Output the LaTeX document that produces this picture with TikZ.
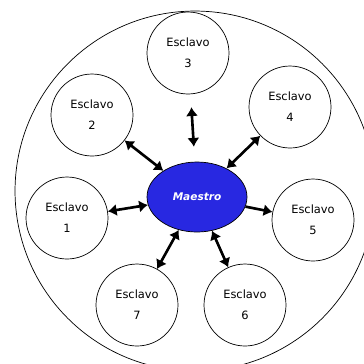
\documentclass[tikz,border=0pt]{standalone}
\usepackage{fontspec}
\setmainfont{DejaVu Sans}
\usetikzlibrary{arrows.meta, shapes.geometric}
\definecolor{maestroblue}{RGB}{40,40,225}

\begin{document}
\begin{tikzpicture}[x=0.02cm, y=-0.02cm,
    esclavo/.style={draw, circle, thin, minimum size=1.64cm, align=center, inner sep=0pt, font=\fontsize{6.5}{12}\selectfont},
    maestro/.style={draw, ellipse, fill=maestroblue, minimum width=2cm, minimum height=1.4cm, text=white, font=\fontsize{6}{8}\selectfont\bfseries\itshape},
    link/.style={{Latex[length=5pt,width=7pt]}-{Latex[length=5pt,width=7pt]}, line width=1.5pt},
    salida/.style={-{Latex[length=5pt,width=7pt]}, line width=1.5pt}]
    \useasboundingbox (0,0) rectangle (364,363);

    % Outer boundary
    \draw[thin] (195,191) circle[radius=3.6cm];

    % Define nodes
    \node[maestro] (M) at (197,197) {Maestro};
    \node[esclavo] (E1) at (67,218) {Esclavo\\1};
    \node[esclavo] (E2) at (92,115) {Esclavo\\2};
    \node[esclavo] (E3) at (188,53) {Esclavo\\3};
    \node[esclavo] (E4) at (290,107) {Esclavo\\4};
    \node[esclavo] (E5) at (313,220) {Esclavo\\5};
    \node[esclavo] (E6) at (245,305) {Esclavo\\6};
    \node[esclavo] (E7) at (137,305) {Esclavo\\7};

    % Draw links
    \draw[link] (M) -- (E1);
    \draw[link] (M) -- (E2);
    \draw[link, shorten <=0.3cm, shorten >=0.26cm] (M) -- (E3);
    \draw[link] (M) -- (E4);
    \draw[salida] (M) -- (E5);
    \draw[link] (M) -- (E6);
    \draw[link] (M) -- (E7);
\end{tikzpicture}
\end{document}
